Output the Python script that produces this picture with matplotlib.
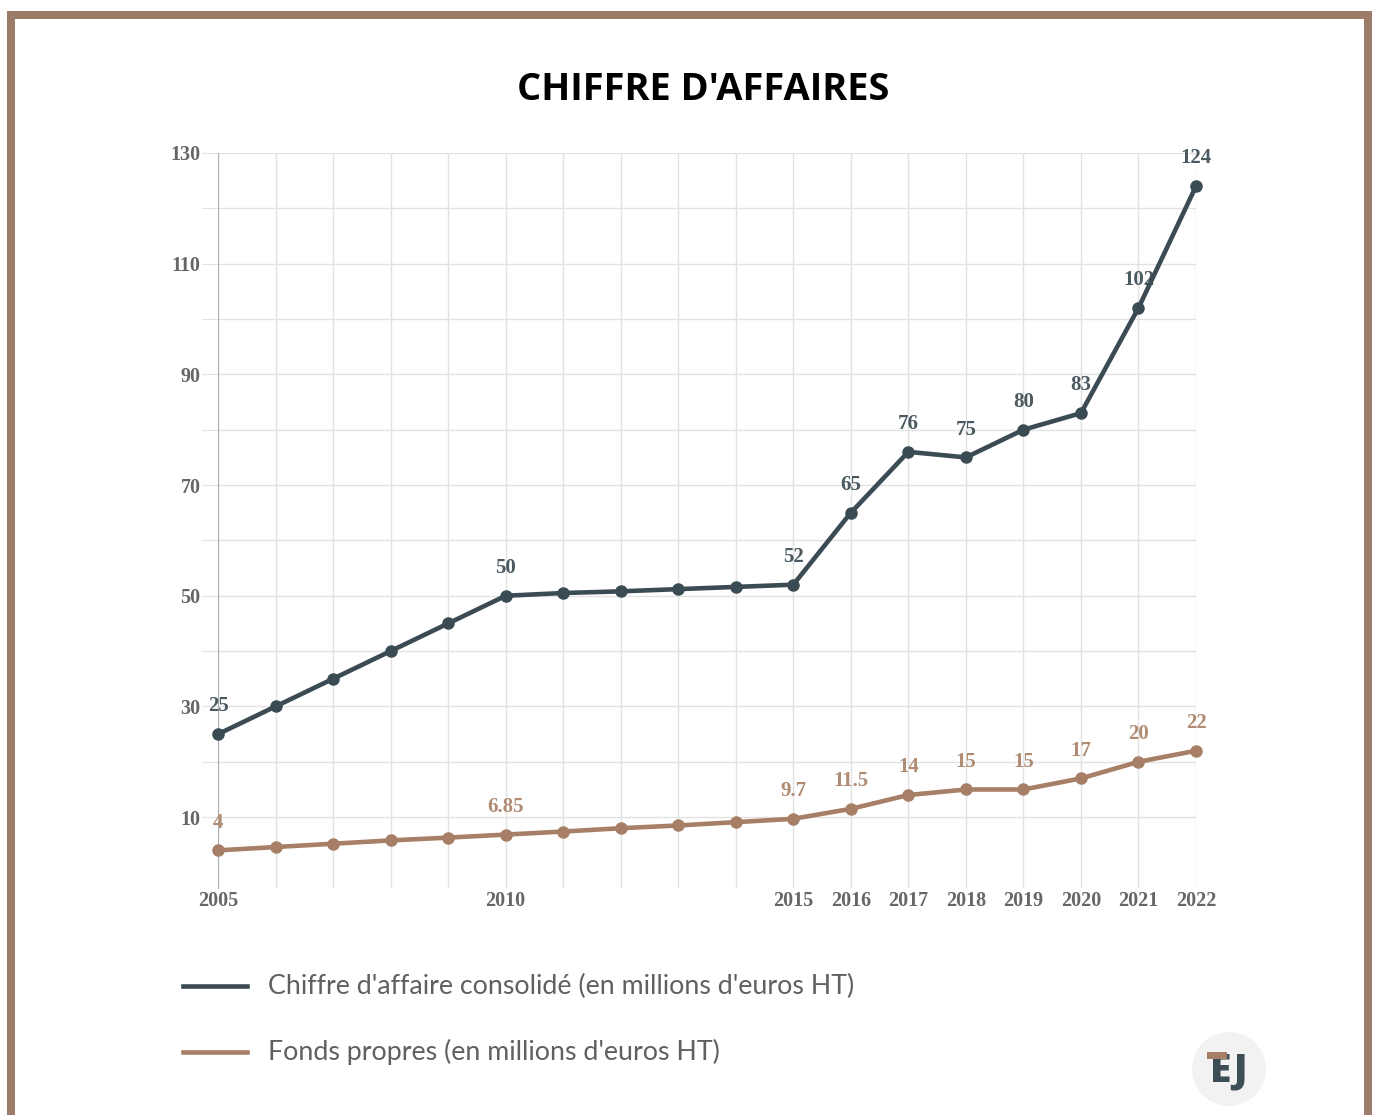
import numpy as np
import matplotlib.pyplot as plt
from matplotlib.patches import Rectangle, Ellipse

# data
years = list(range(2005, 2023))
chiffre = [25, 30, 35, 40, 45, 50, 50.5, 50.8, 51.2, 51.6, 52, 65, 76, 75, 80, 83, 102, 124]
fonds = [4, 4.6, 5.2, 5.8, 6.3, 6.85, 7.4, 8.0, 8.5, 9.1, 9.7, 11.5, 14, 15, 15, 17, 20, 22]
chiffre_labels = {2005: "25", 2010: "50", 2015: "52", 2016: "65", 2017: "76", 2018: "75",
                  2019: "80", 2020: "83", 2021: "102", 2022: "124"}
fonds_labels = {2005: "4", 2010: "6.85", 2015: "9.7", 2016: "11.5", 2017: "14", 2018: "15",
                2019: "15", 2020: "17", 2021: "20", 2022: "22"}
xtick_years = [2005, 2010, 2015, 2016, 2017, 2018, 2019, 2020, 2021, 2022]
ytick_vals = list(range(10, 131, 10))

dark = "#3b4b53"
tan = "#a67f66"
border = "#9c7b69"
grid = "#e2e2e2"

W, H = 1377, 1115
fig = plt.figure(figsize=(W / 100, H / 100), dpi=100)

# brown frame
fig.patches.append(Rectangle((7 / W, 0), (1372 - 7) / W, 1 - 11 / H, transform=fig.transFigure,
                             facecolor=border, edgecolor="none", zorder=0))
fig.patches.append(Rectangle((15 / W, 0), (1364 - 15) / W, 1 - 19 / H, transform=fig.transFigure,
                             facecolor="white", edgecolor="none", zorder=0))

fig.text(703 / W, 1 - 90 / H, "CHIFFRE D'AFFAIRES", ha="center", va="center",
         fontsize=27.4, fontweight="bold", family="Open Sans", color="black")

ax = fig.add_axes([218 / W, 1 - 888 / H, (1196 - 218) / W, (888 - 153) / H])
ax.set_zorder(2)
ax.patch.set_alpha(0)
ax.set_xlim(2005, 2022)
ax.set_ylim(-2.8, 130)

ax.plot(years, chiffre, color=dark, lw=3.3, marker="o", ms=8, zorder=4, clip_on=False)
ax.plot(years, fonds, color=tan, lw=3.3, marker="o", ms=8, zorder=4, clip_on=False)

lab_font = dict(family="Liberation Serif", fontweight="bold", fontsize=15, ha="center", va="center")
for x, y in zip(years, chiffre):
    if x in chiffre_labels:
        ax.annotate(chiffre_labels[x], (x, y), xytext=(0, 20), textcoords="offset points",
                    color="#4a5a60", zorder=3, annotation_clip=False, **lab_font)
for x, y in zip(years, fonds):
    if x in fonds_labels:
        ax.annotate(fonds_labels[x], (x, y), xytext=(0, 20), textcoords="offset points",
                    color="#b08c74", zorder=3, annotation_clip=False, **lab_font)

ax.set_xticks(years)
ax.set_xticklabels([str(y) if y in xtick_years else "" for y in years])
ax.set_yticks(ytick_vals)
ax.set_yticklabels([str(v) if v % 20 == 10 else "" for v in ytick_vals])
ax.grid(True, color=grid, lw=1)
ax.set_axisbelow(True)
for s in ["top", "right", "bottom"]:
    ax.spines[s].set_visible(False)
ax.spines["left"].set_color("#b0b0b0")
ax.tick_params(axis="x", length=0, pad=2)
ax.tick_params(axis="y", length=11.5, color=grid, pad=1)
for t in ax.get_xticklabels() + ax.get_yticklabels():
    t.set_family("Liberation Serif")
    t.set_fontweight("bold")
    t.set_fontsize(14.5)
    t.set_color("#666666")

# legend drawn by hand below the plot
leg_items = [("Chiffre d'affaire consolidé (en millions d'euros HT)", dark, 986),
             ("Fonds propres (en millions d'euros HT)", tan, 1052)]
for label, col, ypx in leg_items:
    fig.add_artist(plt.Line2D([183 / W, 247 / W], [1 - ypx / H] * 2, color=col, lw=3.3,
                              transform=fig.transFigure))
    fig.text(268 / W, 1 - ypx / H, label, ha="left", va="center", fontsize=19.3,
             family="Lato", color="#606060")

# EJ logo
fig.patches.append(Ellipse((1229 / W, 1 - 1069 / H), 74 / W, 74 / H, transform=fig.transFigure,
                           facecolor="#f2f2f2", edgecolor="none"))
fig.text(1229 / W, 1 - 1071 / H, "EJ", ha="center", va="center", fontsize=28,
         fontweight="heavy", family="Open Sans", color="#3d4d55")
fig.patches.append(Rectangle((1207 / W, 1 - 1059 / H), 20 / W, 7 / H, transform=fig.transFigure,
                             facecolor=tan, edgecolor="none", zorder=5))

fig.savefig("out.png", dpi=100)
